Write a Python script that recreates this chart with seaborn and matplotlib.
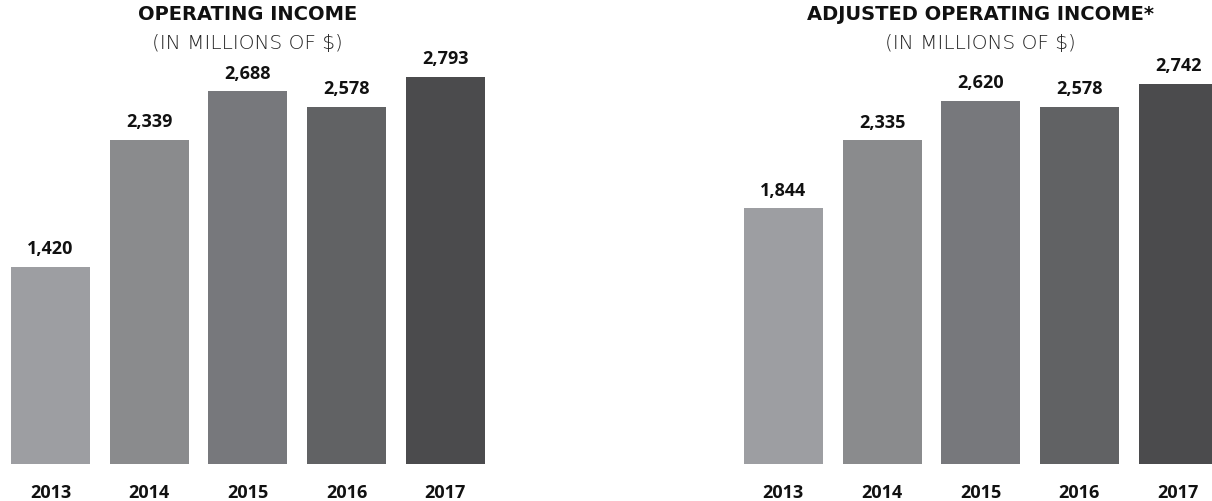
import matplotlib
matplotlib.use('Agg')
import matplotlib.pyplot as plt
import seaborn as sns
import pandas as pd

years = ['2013', '2014', '2015', '2016', '2017']
operating_income = [1420, 2339, 2688, 2578, 2793]
adjusted_operating_income = [1844, 2335, 2620, 2578, 2742]
bar_colors = ['#9d9ea2', '#8a8b8d', '#77787c', '#616264', '#4b4b4d']

titles = ['OPERATING INCOME', 'ADJUSTED OPERATING INCOME*']
subtitle = '(IN MILLIONS OF $)'

sns.set_style('white')
plt.rcParams['font.family'] = ['Open Sans', 'DejaVu Sans']

fig = plt.figure(figsize=(12.12, 5.02), dpi=100)
W, H = 1212, 502
axes_w = 493.5 / W
axes_h = 415.8 / H
bottom = (502 - 465) / H
lefts = [1.1 / W, 734.0 / W]
centers = [(11 + 484) / 2 / W, (744 + 1217) / 2 / W]

series = [operating_income, adjusted_operating_income]
for left, cx, values, title in zip(lefts, centers, series, titles):
    ax = fig.add_axes([left, bottom, axes_w, axes_h])
    df = pd.DataFrame({'Year': years, 'Value': values})
    sns.barplot(data=df, x='Year', y='Value', hue='Year', palette=bar_colors,
                legend=False, width=0.8, saturation=1, linewidth=0, ax=ax)
    for container in ax.containers:
        ax.bar_label(container, labels=[f'{int(round(v)):,}' for v in container.datavalues],
                     padding=7, fontsize=13, fontweight='bold', color='#111111')
    ax.set_ylim(0, 3000)
    ax.set_xlim(-0.5, 4.5)
    ax.set_xlabel('')
    ax.set_ylabel('')
    ax.set_yticks([])
    ax.tick_params(axis='x', length=0, pad=14, labelsize=13)
    for lbl in ax.get_xticklabels():
        lbl.set_fontweight('bold')
        lbl.set_color('#111111')
    sns.despine(ax=ax, left=True, bottom=True)

    fig.text(cx, 1 - 15 / H, title, ha='center', va='center', fontsize=14,
             fontweight='bold', family='DejaVu Sans', color='#111111')
    fig.text(cx, 1 - 43 / H, subtitle, ha='center', va='center', fontsize=14.5,
             fontweight='light', family='DejaVu Sans', color='#222222')

fig.savefig('out.png', dpi=100)
